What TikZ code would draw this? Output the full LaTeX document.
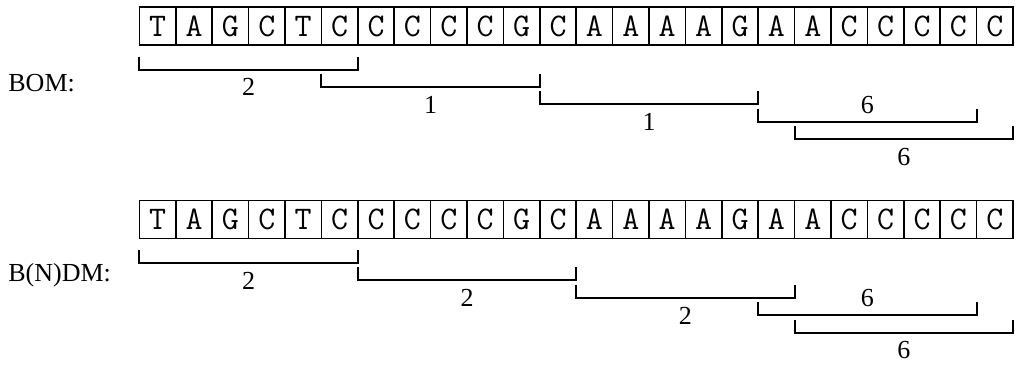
\documentclass[tikz,border=0pt]{standalone}
\usepackage{fontspec}
\setmainfont{Liberation Serif}
\usetikzlibrary{positioning}

\begin{document}
\begin{tikzpicture}[node distance=0pt,cell/.style={draw,line width=.8pt,inner sep=0pt,outer sep=0pt,minimum width=18.2pt,minimum height=19pt,font=\ttfamily\fontsize{16.5}{16.5}\selectfont},brk/.style={line width=1pt},num/.style={inner sep=0pt,font=\fontsize{13}{13}\selectfont},tag/.style={anchor=base west,inner sep=0pt,font=\fontsize{13}{13}\selectfont}]
\useasboundingbox (0,0) rectangle (512pt,-183pt);
% BOM row
\node[cell] (t0) at (78.8pt,-13pt) {T};
\foreach \l [count=\i,remember=\i as \p (initially 0)] in {A,G,C,T,C,C,C,C,C,G,C,A,A,A,A,G,A,A,C,C,C,C,C}
  \node[cell,right=of t\p] (t\i) {\l};
\node[tag] (bom) at (4pt,-45.5pt) {BOM:};
\draw[brk] ([yshift=-5.75pt]t0.south west) -- ++(0,-6.5pt) -| ([yshift=-5.75pt]t5.south east) node[num,pos=.25,below=4pt] (tn1) {2};
\draw[brk] ([yshift=-14.45pt]t5.south west) -- ++(0,-6.5pt) -| ([yshift=-14.45pt]t10.south east) node[num,pos=.25,below=4pt] (tn2) {1};
\draw[brk] ([yshift=-23.15pt]t11.south west) -- ++(0,-6.5pt) -| ([yshift=-23.15pt]t16.south east) node[num,pos=.25,below=4pt] (tn3) {1};
\draw[brk] ([yshift=-31.85pt]t17.south west) -- ++(0,-6.5pt) -| ([yshift=-31.85pt]t22.south east) node[num,pos=.25,above=3.5pt] (tn4) {6};
\draw[brk] ([yshift=-40.55pt]t18.south west) -- ++(0,-6.5pt) -| ([yshift=-40.55pt]t23.south east) node[num,pos=.25,below=4pt] (tn5) {6};
% B(N)DM row
\node[cell] (b0) at (78.8pt,-109.75pt) {T};
\foreach \l [count=\i,remember=\i as \p (initially 0)] in {A,G,C,T,C,C,C,C,C,G,C,A,A,A,A,G,A,A,C,C,C,C,C}
  \node[cell,right=of b\p] (b\i) {\l};
\node[tag] (bndm) at (4pt,-140.8pt) {B(N)DM:};
\draw[brk] ([yshift=-5.75pt]b0.south west) -- ++(0,-6.5pt) -| ([yshift=-5.75pt]b5.south east) node[num,pos=.25,below=4pt] (bn1) {2};
\draw[brk] ([yshift=-14.45pt]b6.south west) -- ++(0,-6.5pt) -| ([yshift=-14.45pt]b11.south east) node[num,pos=.25,below=4pt] (bn2) {2};
\draw[brk] ([yshift=-23.15pt]b12.south west) -- ++(0,-6.5pt) -| ([yshift=-23.15pt]b17.south east) node[num,pos=.25,below=4pt] (bn3) {2};
\draw[brk] ([yshift=-31.85pt]b17.south west) -- ++(0,-6.5pt) -| ([yshift=-31.85pt]b22.south east) node[num,pos=.25,above=3.5pt] (bn4) {6};
\draw[brk] ([yshift=-40.55pt]b18.south west) -- ++(0,-6.5pt) -| ([yshift=-40.55pt]b23.south east) node[num,pos=.25,below=4pt] (bn5) {6};
\end{tikzpicture}
\end{document}
